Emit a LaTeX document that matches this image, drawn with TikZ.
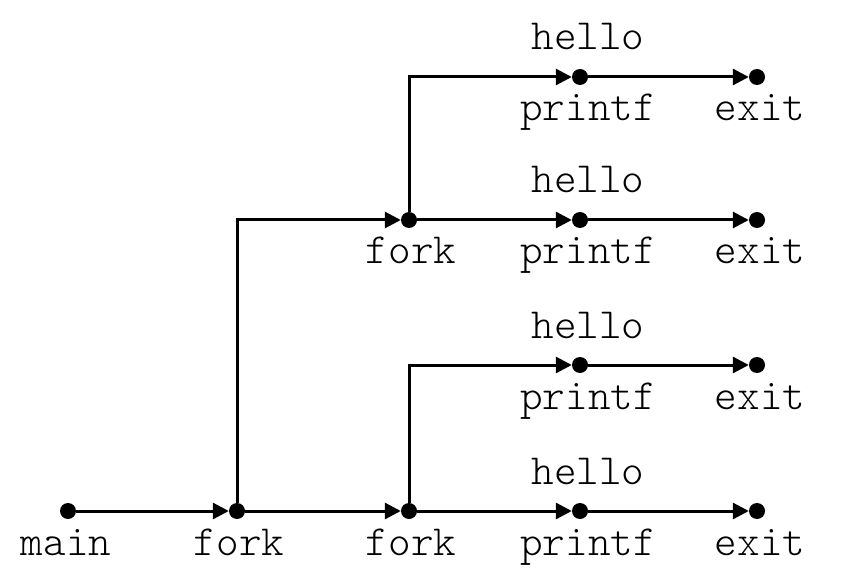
\documentclass[tikz,border=0pt]{standalone}
\usepackage{fontspec}
\setmonofont{Latin Modern Mono Light}
\usetikzlibrary{arrows.meta}
\begin{document}
\begin{tikzpicture}[x=1pt,y=-1pt,
  dot/.style={circle,fill=black,inner sep=0pt,minimum size=16pt},
  lbl/.style={font=\ttfamily\fontsize{43}{46}\selectfont,anchor=base,inner sep=0pt},
  flow/.style={line width=3pt,-{Triangle[length=16pt,width=16pt]}}]
\useasboundingbox (0,0) rectangle (856,577);
% dots
\node[dot] (main) at (68,511) {};
\node[dot] (f1) at (237,511) {};
\node[dot] (f3) at (409,511) {};
\node[dot] (p4) at (580,511) {};
\node[dot] (e4) at (757,511) {};
\node[dot] (p3) at (580,365) {};
\node[dot] (e3) at (757,365) {};
\node[dot] (f2) at (409,220) {};
\node[dot] (p2) at (580,220) {};
\node[dot] (e2) at (757,220) {};
\node[dot] (p1) at (580,77) {};
\node[dot] (e1) at (757,77) {};
% connectors
\draw[flow] (main) -- (f1);
\draw[flow] (f1) -- (f3);
\draw[flow] (f3) -- (p4);
\draw[flow] (p4) -- (e4);
\draw[flow] (f3) |- (p3);
\draw[flow] (p3) -- (e3);
\draw[flow] (f1) |- (f2);
\draw[flow] (f2) -- (p2);
\draw[flow] (p2) -- (e2);
\draw[flow] (f2) |- (p1);
\draw[flow] (p1) -- (e1);
% labels
\node[lbl] (lmain) at (66,555) {main};
\node[lbl] (lf1) at (239,555) {fork};
\node[lbl] (lf3) at (411,555) {fork};
\node[lbl] (lp4) at (588,555) {printf};
\node[lbl] (le4) at (760,555) {exit};
\node[lbl] (lh4) at (588,484) {hello};
\node[lbl] (lp3) at (588,409) {printf};
\node[lbl] (le3) at (760,409) {exit};
\node[lbl] (lh3) at (588,338) {hello};
\node[lbl] (lf2) at (411,264) {fork};
\node[lbl] (lp2) at (588,264) {printf};
\node[lbl] (le2) at (760,264) {exit};
\node[lbl] (lh2) at (588,193) {hello};
\node[lbl] (lp1) at (588,121) {printf};
\node[lbl] (le1) at (760,121) {exit};
\node[lbl] (lh1) at (588,50) {hello};
\end{tikzpicture}
\end{document}
